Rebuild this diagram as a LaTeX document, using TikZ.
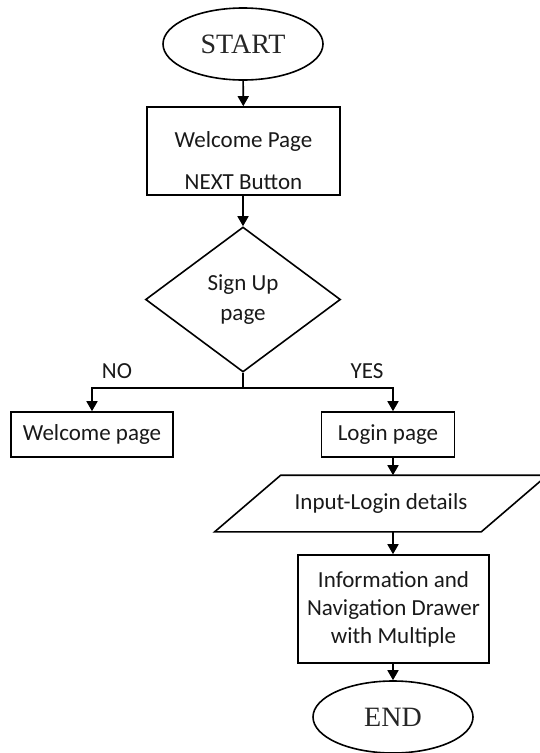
\documentclass[tikz,border=0pt]{standalone}
\usepackage{fontspec}
\setmainfont{Carlito}
\newfontfamily\termfont{Liberation Serif}
\usetikzlibrary{shapes.geometric}
\usetikzlibrary{arrows.meta}

\begin{document}
\begin{tikzpicture}[x=1pt,y=-1pt,line width=1.6pt,
  term/.style={ellipse,draw,inner sep=0pt,minimum width=160pt,minimum height=72pt,
    text=black!85,font=\termfont\fontsize{28}{30}\selectfont},
  box/.style={rectangle,draw,inner sep=0pt,align=center,text=black!90,
    font=\fontsize{23}{28}\selectfont},
  lbl/.style={inner sep=0pt,align=center,text=black!90,font=\fontsize{23}{28}\selectfont},
  arr/.style={-{Triangle[length=10pt,width=11pt]}}]
  \useasboundingbox (0,0) rectangle (539,753);

  \node [term] (start) at (243,44) {START};
  \node [box,minimum width=193pt,minimum height=88pt,
    label={[lbl,yshift=-10pt]center:Welcome Page\\[14pt]NEXT Button}] (welcome) at (243.5,151) {};
  \node [diamond,draw,inner sep=0pt,minimum width=195pt,minimum height=145pt,
    align=center,text=black!90,font=\fontsize{23}{30}\selectfont] (signup) at (243,299.5) {Sign Up\\page};
  \coordinate (split) at (243,388);
  \node [lbl] (no) at (117,371) {NO};
  \node [lbl] (yes) at (367,371) {YES};
  \node [box,minimum width=162pt,minimum height=45pt] (wpage) at (92,434.5) {Welcome page};
  \node [box,minimum width=133pt,minimum height=45pt] (login) at (388,434.5) {Login page};
  \coordinate (col) at (393,0);
  % input slab, drawn as a slanted outline round the text node
  \node [lbl,minimum width=265pt,minimum height=55pt] (input) at (381,503.5) {Input-Login details};
  \draw ([xshift=33pt]input.north west) -- ([xshift=33pt]input.north east)
    -- ([xshift=-33pt]input.south east) -- ([xshift=-33pt]input.south west) -- cycle;
  \node [box,minimum width=191pt,minimum height=108pt] (info) at (393.5,609)
    {Information and\\Navigation Drawer\\with Multiple};
  \node [term] (end) at (393,717) {END};

  \draw[arr] (start) -- (welcome);
  \draw[arr] (welcome.south -| start) -- (signup.north);
  \draw (signup.south) -- (split);
  \draw[arr] (split) -| (wpage.north);
  \draw[arr] (split) -| (login.north -| col);
  \draw[arr] (login.south -| col) -- (input.north -| col);
  \draw[arr] (input.south -| col) -- (info.north -| col);
  \draw[arr] (info.south -| col) -- (end.north -| col);
\end{tikzpicture}
\end{document}
